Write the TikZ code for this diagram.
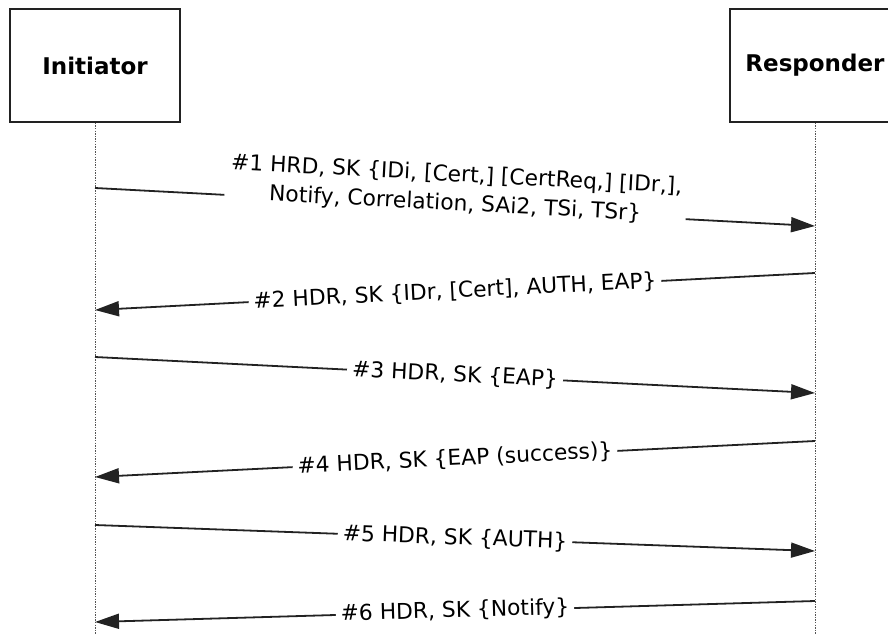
\documentclass[tikz,border=0pt]{standalone}
\usepackage{fontspec}
\setmainfont{DejaVu Sans}
\usetikzlibrary{arrows.meta}
\definecolor{linegray}{HTML}{222222}
\definecolor{dotgray}{HTML}{555555}

\tikzset{
  actor/.style={draw=linegray,line width=1.6pt,minimum width=170pt,minimum height=113pt,
    font=\bfseries\fontsize{23}{27}\selectfont},
  lifeline/.style={draw=dotgray,line width=1pt,dash pattern=on 1.3pt off 1.3pt},
  msg/.style={draw=linegray,line width=1.8pt,-{Triangle[length=24pt,width=15pt]}},
  msglabel/.style={fill=white,inner xsep=5pt,inner ysep=3pt,sloped,midway,align=center,
    font=\fontsize{21.8}{29}\selectfont}
}

\begin{document}
\begin{tikzpicture}[x=1pt,y=-1pt]
  \useasboundingbox (0,0) rectangle (888,634);

  \node[actor] (init) at (95,65.5) {Initiator};
  \node[actor] (resp) at (815,65.5) {Responder};

  \coordinate (initend) at (95,634);
  \coordinate (respend) at (815,634);
  \draw[lifeline] (init.south) -- (initend);
  \draw[lifeline] (resp.south) -- (respend);

  % message ends on the lifelines
  \coordinate (i1) at (95,188);  \coordinate (r1) at (815,226);
  \coordinate (r2) at (815,273); \coordinate (i2) at (95,310);
  \coordinate (i3) at (95,357);  \coordinate (r3) at (815,393);
  \coordinate (r4) at (815,441); \coordinate (i4) at (95,477);
  \coordinate (i5) at (95,525);  \coordinate (r5) at (815,551);
  \coordinate (r6) at (815,601); \coordinate (i6) at (95,622);

  \draw[msg] (i1) -- node[msglabel,yshift=17pt]
    {\#1 HRD, SK \{IDi, [Cert,] [CertReq,] [IDr,],\\Notify, Correlation, SAi2, TSi, TSr\}} (r1);
  \draw[msg] (r2) -- node[msglabel] {\#2 HDR, SK \{IDr, [Cert], AUTH, EAP\}} (i2);
  \draw[msg] (i3) -- node[msglabel] {\#3 HDR, SK \{EAP\}} (r3);
  \draw[msg] (r4) -- node[msglabel] {\#4 HDR, SK \{EAP (success)\}} (i4);
  \draw[msg] (i5) -- node[msglabel] {\#5 HDR, SK \{AUTH\}} (r5);
  \draw[msg] (r6) -- node[msglabel] {\#6 HDR, SK \{Notify\}} (i6);
\end{tikzpicture}
\end{document}
